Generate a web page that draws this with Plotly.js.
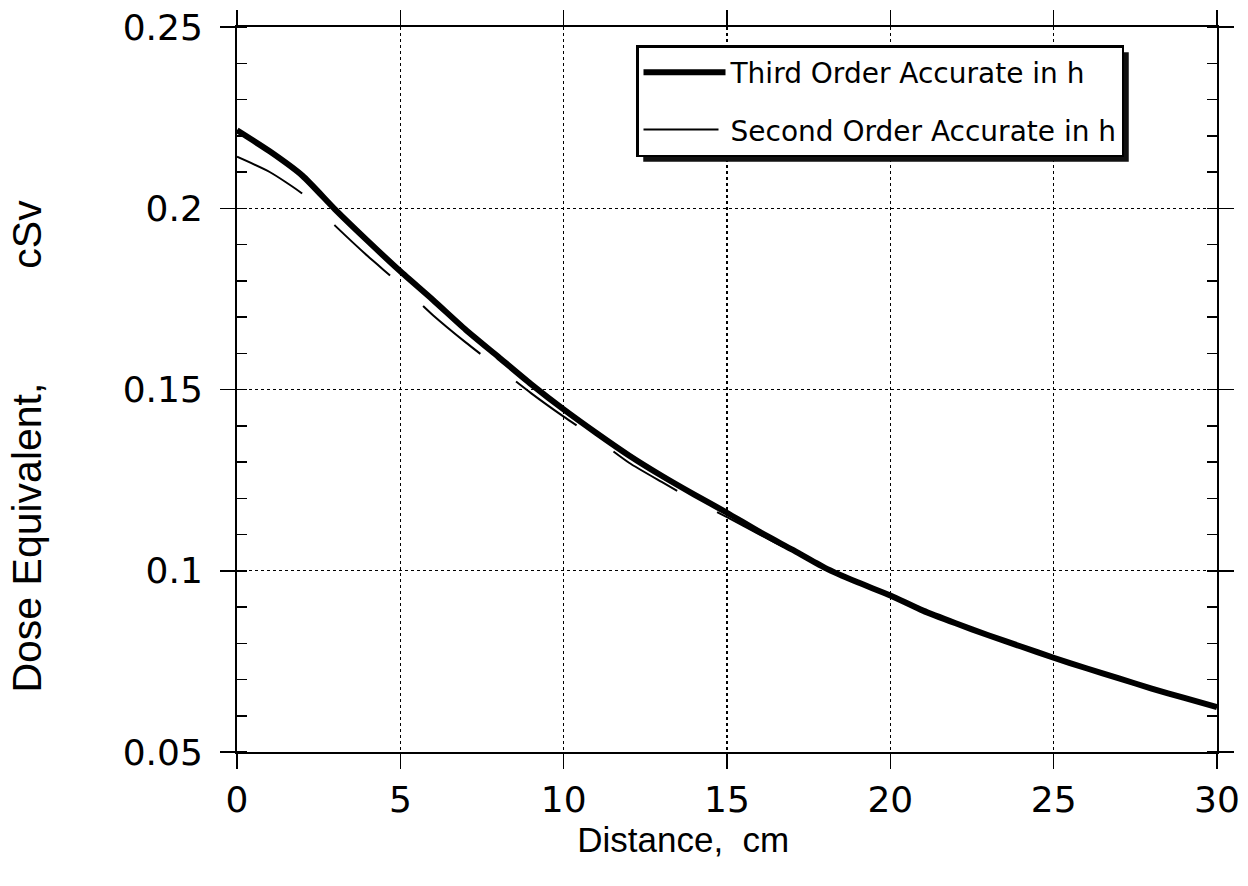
<!DOCTYPE html>
<html>
<head>
<meta charset="utf-8">
<script src="https://cdn.plot.ly/plotly-3.0.1.min.js"></script>
<style>
  html, body { margin: 0; padding: 0; background: #ffffff; }
  #chart { width: 1248px; height: 886px; }
</style>
</head>
<body>
<div id="chart"></div>
<script>
// Distance from the surface, cm
const distance = [0, 1, 2, 3, 4, 5, 6, 7, 8, 9, 10, 11, 12, 13, 14, 15,
                  16, 17, 18, 19, 20, 21, 22, 23, 24, 25, 26, 27, 28, 29, 30];

// Dose equivalent, cSv — third order accurate scheme
const thirdOrder = [0.2215, 0.2157, 0.2090, 0.1997, 0.1910, 0.1826, 0.1747, 0.1665,
                    0.1590, 0.1515, 0.1445, 0.1380, 0.1318, 0.1262, 0.1210, 0.1160,
                    0.1107, 0.1058, 0.1008, 0.0968, 0.0932, 0.0890, 0.0855, 0.0822,
                    0.0791, 0.0760, 0.0731, 0.0703, 0.0675, 0.0649, 0.0624];

// Dose equivalent, cSv — second order accurate scheme
const secondOrder = [0.2142, 0.2100, 0.2040, 0.1952, 0.1868, 0.1790, 0.1705, 0.1630,
                     0.1560, 0.1490, 0.1425, 0.1364, 0.1298, 0.1245, 0.1194, 0.1148,
                     0.1100, 0.1053, 0.1005, 0.0966, 0.0930, 0.0889, 0.0854, 0.0821,
                     0.0790, 0.0759, 0.0730, 0.0702, 0.0674, 0.0648, 0.0623];

const seriesNames = ['Third Order Accurate in h', 'Second Order Accurate in h'];

// non-breaking spaces; a zero-width space at the end keeps trailing padding from being trimmed
const nb = (n) => '\u00a0'.repeat(n);
const keep = '\u200b';
const xTitle = 'Distance,' + nb(2) + 'cm' + nb(9) + keep;
const yTitle = 'Dose' + nb(1) + 'Equivalent,' + nb(10) + 'cSv' + nb(10) + keep;

// plot area in pixels
const W = 1248, H = 886;
const M = { l: 237, r: 31, t: 27, b: 134 };
const plotW = W - M.l - M.r, plotH = H - M.t - M.b;
const px = (p) => (p - M.l) / plotW;
const py = (p) => (H - M.b - p) / plotH;

const traces = [
  {
    x: distance, y: thirdOrder, name: seriesNames[0],
    type: 'scatter', mode: 'lines', legendgroup: 'a', legendrank: 1,
    line: { color: '#000', width: 6, shape: 'spline', smoothing: 0.6 }
  },
  {
    x: distance, y: secondOrder, name: seriesNames[1],
    type: 'scatter', mode: 'lines', legendgroup: 'b', legendrank: 2,
    line: { color: '#000', width: 2, dash: '75px,45px', shape: 'spline', smoothing: 0.6 }
  }
];

const tickFont = { family: 'DejaVu Sans, sans-serif', size: 36, color: '#000' };

const layout = {
  width: W, height: H,
  margin: M,
  paper_bgcolor: '#fff', plot_bgcolor: '#fff',
  showlegend: true,
  legend: {
    x: px(636), y: py(45), xanchor: 'left', yanchor: 'top',
    bgcolor: '#fff', bordercolor: '#000', borderwidth: 2.5,
    font: { family: 'DejaVu Sans, sans-serif', size: 28, color: '#000' },
    traceorder: 'grouped', tracegroupgap: 18, itemwidth: 82,
    itemclick: false
  },
  xaxis: {
    range: [0, 30], dtick: 5, tick0: 0,
    showline: true, linecolor: '#000', linewidth: 2, mirror: 'allticks',
    ticks: 'outside', ticklen: 15, tickwidth: 1.5, tickcolor: '#000',
    showgrid: true, gridcolor: '#000', gridwidth: 1.3, griddash: 'dot',
    zeroline: false, tickfont: tickFont, ticklabelstandoff: 0,
    title: {
      text: xTitle, standoff: 0,
      font: { family: 'Liberation Sans, Arial, sans-serif', size: 35, color: '#000' }
    }
  },
  yaxis: {
    range: [0.05, 0.25], dtick: 0.05, tick0: 0,
    showline: true, linecolor: '#000', linewidth: 2, mirror: 'allticks',
    ticks: 'outside', ticklen: 15, tickwidth: 1.5, tickcolor: '#000',
    showgrid: true, gridcolor: '#000', gridwidth: 1.3, griddash: 'dot',
    zeroline: false, tickfont: tickFont, ticklabelstandoff: 10,
    minor: { dtick: 0.01, ticks: 'inside', ticklen: 10, tickwidth: 1.5, tickcolor: '#000', showgrid: false },
    title: {
      text: yTitle, standoff: 68,
      font: { family: 'Liberation Sans, Arial, sans-serif', size: 41, color: '#000' }
    }
  }
};

const gd = document.getElementById('chart');
Plotly.newPlot(gd, traces, layout, { staticPlot: true, displayModeBar: false }).then(() => {
  // drop shadow offset down-right from the drawn legend box
  const bg = gd.querySelector('.legend .bg');
  if (!bg) return;
  const box = bg.getBoundingClientRect();
  const host = gd.getBoundingClientRect();
  const left = box.left - host.left, top = box.top - host.top;
  const right = left + box.width, bottom = top + box.height;
  const off = 6;
  return Plotly.relayout(gd, {
    shapes: [{
      type: 'rect', xref: 'paper', yref: 'paper', layer: 'above',
      x0: px(left + off), x1: px(right + off), y0: py(top + off), y1: py(bottom + off),
      fillcolor: '#111', line: { width: 0 }
    }]
  });
});
</script>
</body>
</html>
